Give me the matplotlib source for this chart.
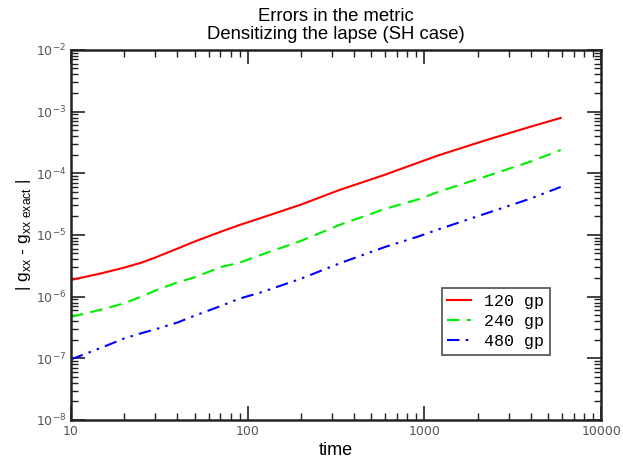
import matplotlib
matplotlib.use("Agg")
import matplotlib.pyplot as plt
from matplotlib.ticker import NullFormatter

# time points
time = [10, 15, 20, 25, 30, 40, 50, 70, 90, 120, 200, 330, 600, 930, 1200, 2200, 4000, 5900]

err_120 = [1.86e-6, 2.4e-6, 2.95e-6, 3.55e-6, 4.3e-6, 6.0e-6, 7.8e-6, 1.12e-5, 1.45e-5, 1.9e-5,
           3.1e-5, 5.35e-5, 9.5e-5, 1.5e-4, 1.95e-4, 3.4e-4, 5.7e-4, 7.9e-4]
err_240 = [4.7e-7, 6.2e-7, 7.8e-7, 1.0e-6, 1.25e-6, 1.7e-6, 2.05e-6, 3.0e-6, 3.55e-6, 4.8e-6,
           8.0e-6, 1.45e-5, 2.65e-5, 3.8e-5, 5.0e-5, 8.8e-5, 1.55e-4, 2.38e-4]
err_480 = [9.6e-8, 1.5e-7, 2.1e-7, 2.55e-7, 2.95e-7, 3.8e-7, 4.9e-7, 7.0e-7, 9.3e-7, 1.18e-6,
           1.95e-6, 3.45e-6, 6.4e-6, 9.5e-6, 1.23e-5, 2.2e-5, 3.9e-5, 6.0e-5]

labels = ["120 gp", "240 gp", "480 gp"]
xticks = [10, 100, 1000, 10000]
yticks = [1e-8, 1e-7, 1e-6, 1e-5, 1e-4, 1e-3, 1e-2]

plt.rcParams['font.family'] = ['Liberation Sans', 'DejaVu Sans']
plt.rcParams['mathtext.fontset'] = 'custom'
plt.rcParams['mathtext.rm'] = 'Liberation Sans'

fig = plt.figure(figsize=(6.23, 4.62), dpi=100)
ax = fig.add_axes([0.114, 0.091, 0.851, 0.801])

ax.plot(time, err_120, color='#ff0000', lw=1.5, ls='-', label=labels[0])
ax.plot(time, err_240, color='#00ee00', lw=1.5, ls=(0, (6, 3.5)), label=labels[1])
ax.plot(time, err_480, color='#0000ff', lw=1.5, ls=(0, (6, 3, 1.2, 3, 1.2, 3)), label=labels[2])

ax.set_xscale('log')
ax.set_yscale('log')
ax.set_xticks(xticks)
ax.set_xticklabels([str(t) for t in xticks], family='DejaVu Sans')
ax.set_yticks(yticks)
ax.set_xlim(10, 10000)
ax.set_ylim(1e-8, 1e-2)

ax.tick_params(which='both', direction='in', top=True, right=True, colors='#222222',
               labelcolor='#555555', labelsize=9)
ax.tick_params(which='major', length=10, width=1.2)
ax.tick_params(which='minor', length=5, width=1.0)
ax.xaxis.set_minor_formatter(NullFormatter())
ax.yaxis.set_minor_formatter(NullFormatter())
for lab in ax.get_yticklabels():
    lab.set_family('DejaVu Sans')
for s in ax.spines.values():
    s.set_linewidth(1.8)
    s.set_color('#222222')

ax.set_title("Errors in the metric\nDensitizing the lapse (SH case)", fontsize=13.3, pad=8,
             linespacing=1.05)
ax.set_xlabel("time", fontsize=13, labelpad=3)
ax.set_ylabel(r"| g$_{\mathrm{xx}}$ - g$_{\mathrm{xx\ exact}}$ |", fontsize=12.5, labelpad=2)

leg = ax.legend(loc='upper left', bbox_to_anchor=(0.699, 0.356), borderaxespad=0,
                prop={'family': 'Liberation Mono', 'size': 12}, fancybox=False,
                handlelength=1.4, handletextpad=0.8, labelspacing=0.3, borderpad=0.35)
leg.get_frame().set_edgecolor('#333333')
leg.get_frame().set_linewidth(1.3)

fig.savefig("out.png", dpi=100)
